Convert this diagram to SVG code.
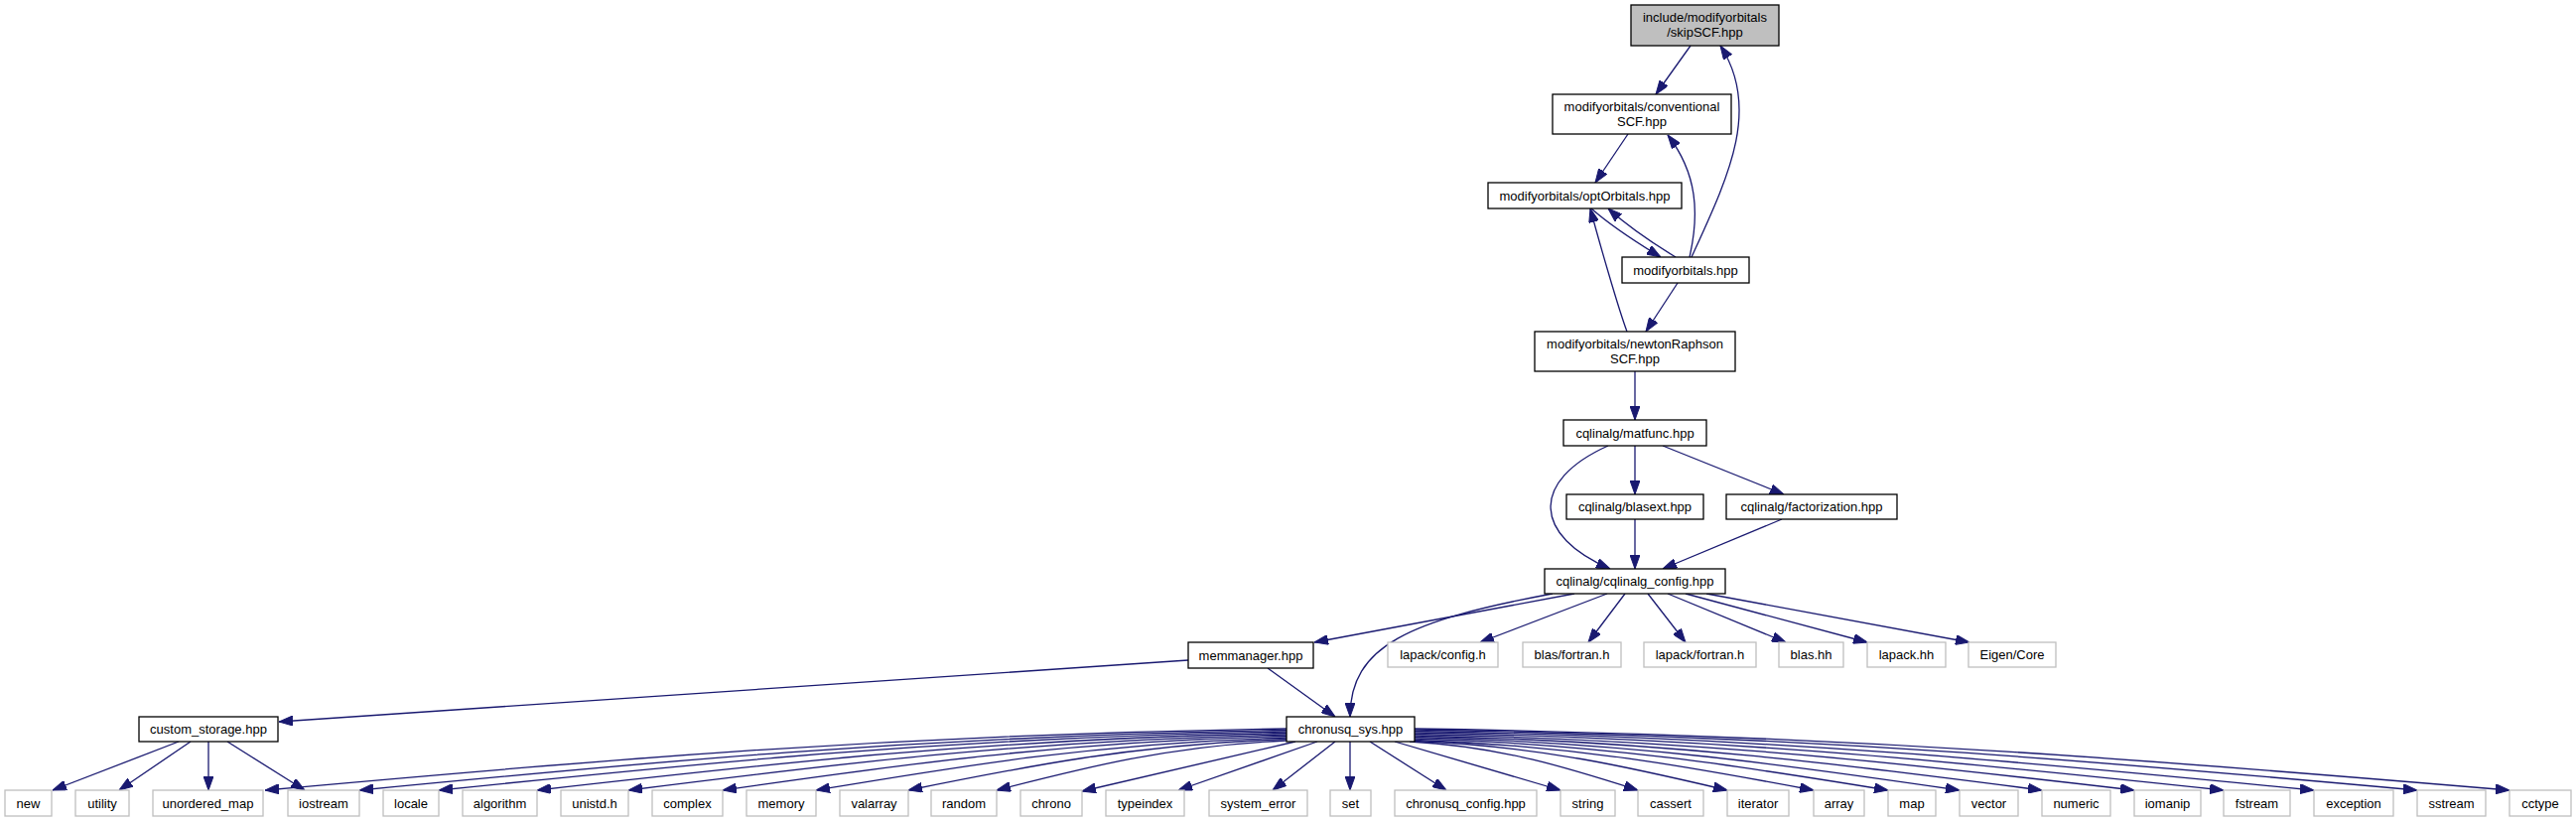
<svg xmlns="http://www.w3.org/2000/svg" width="2595" height="828" viewBox="0 0 2595 828">
<defs>
<style>
.n rect{fill:#ffffff;stroke:#000000;stroke-width:1.3}
.n.root rect{fill:#bfbfbf}
.x rect{fill:#ffffff;stroke:#bfbfbf;stroke-width:1.3}
text{font-family:"Liberation Sans",Arial,sans-serif;font-size:13px;fill:#000000;text-anchor:middle}
.e path{fill:none;stroke:#191970;stroke-width:1.3;marker-end:url(#arr)}
</style>
<marker id="arr" viewBox="0 0 14 10" refX="14" refY="5" markerWidth="14" markerHeight="10" markerUnits="userSpaceOnUse" orient="auto">
<path d="M0,0 L14,5 L0,10 z" fill="#191970" stroke="#191970" stroke-width="1"/>
</marker>
</defs>
<rect x="0" y="0" width="2595" height="828" fill="#ffffff"/>

<g id="edges" class="e">
<path d="M1703,46 L1668,95"/>
<path d="M1704,259 C1740,180 1775,110 1733,46"/>
<path d="M1640,135 L1607,184"/>
<path d="M1702,259 C1712,215 1710,175 1680,136"/>
<path d="M1603,210 C1620,225 1645,242 1673,259"/>
<path d="M1688,259 C1665,245 1640,228 1620,210"/>
<path d="M1639,334 C1630,310 1610,240 1602,210"/>
<path d="M1690,285 L1658,334"/>
<path d="M1647,374 L1647,423"/>
<path d="M1647,449 L1647,498"/>
<path d="M1675,449 L1797,498"/>
<path d="M1620,449 C1540,485 1545,540 1622,573"/>
<path d="M1647,523 L1647,573"/>
<path d="M1795,523 L1675,573"/>
<path d="M1586,598 L1324,647"/>
<path d="M1564,598 C1420,625 1360,650 1360,722"/>
<path d="M1619,598 L1491,647"/>
<path d="M1637,598 L1600,647"/>
<path d="M1660,598 L1698,647"/>
<path d="M1680,598 L1799,647"/>
<path d="M1698,598 L1881,647"/>
<path d="M1719,598 L1984,647"/>
<path d="M1197,665 L281,727"/>
<path d="M1277,673 L1345,722"/>
<path d="M180,747 L53,796"/>
<path d="M192,747 L120,796"/>
<path d="M210,747 L210,796"/>
<path d="M229,747 L307,796"/>
<path d="M1296,734 C884.4,740.2 575.7,768.1 267,796"/>
<path d="M1296,735.5 C922.4,741.6 642.2,768.8 362,796"/>
<path d="M1296,737 C954.4,742.9 698.2,769.5 442,796"/>
<path d="M1296,738.5 C994,744.3 767.5,770.1 541,796"/>
<path d="M1296,740 C1030.8,745.6 831.9,770.8 633,796"/>
<path d="M1296,741.5 C1068.8,747 898.4,771.5 728,796"/>
<path d="M1296,743 C1106.4,748.3 964.2,772.2 822,796"/>
<path d="M1296,744.5 C1143.6,749.7 1029.3,772.8 915,796"/>
<path d="M1296,746 C1179.2,751 1091.6,773.5 1004,796"/>
<path d="M1305,747 L1090,797"/>
<path d="M1327,747 L1187,796"/>
<path d="M1345,747 L1282,796"/>
<path d="M1360,747 L1360,796"/>
<path d="M1380,747 L1457,796"/>
<path d="M1405,747 L1572,796"/>
<path d="M1420,747 C1512,751.9 1581,774 1650,796"/>
<path d="M1425,746.5 C1551,751.5 1645.5,773.7 1740,796"/>
<path d="M1425,745.5 C1585.8,750.6 1706.4,773.3 1827,796"/>
<path d="M1425,744 C1615.8,749.2 1758.9,772.6 1902,796"/>
<path d="M1425,742.5 C1644.6,747.9 1809.3,771.9 1974,796"/>
<path d="M1425,741 C1677.8,746.5 1867.4,771.3 2057,796"/>
<path d="M1425,739.5 C1715,745.2 1932.5,770.6 2150,796"/>
<path d="M1425,738 C1751,743.8 1995.5,769.9 2240,796"/>
<path d="M1425,736.5 C1787.4,742.5 2059.2,769.2 2331,796"/>
<path d="M1425,735 C1829,741.1 2132,768.6 2435,796"/>
<path d="M1425,734 C1866.2,740.2 2197.1,768.1 2528,796"/>
</g>

<g id="node-skipSCF" class="n root"><rect x="1643" y="5" width="149" height="41"/><text x="1717.5" y="22">include/modifyorbitals</text><text x="1717.5" y="37">/skipSCF.hpp</text></g>
<g id="node-conventionalSCF" class="n"><rect x="1564" y="95" width="180" height="40"/><text x="1654" y="112">modifyorbitals/conventional</text><text x="1654" y="127">SCF.hpp</text></g>
<g id="node-optOrbitals" class="n"><rect x="1499" y="184" width="195" height="26"/><text x="1596.5" y="201.5">modifyorbitals/optOrbitals.hpp</text></g>
<g id="node-modifyorbitals" class="n"><rect x="1634" y="259" width="128" height="26"/><text x="1698" y="276.5">modifyorbitals.hpp</text></g>
<g id="node-newtonRaphsonSCF" class="n"><rect x="1546" y="334" width="202" height="40"/><text x="1647" y="351">modifyorbitals/newtonRaphson</text><text x="1647" y="366">SCF.hpp</text></g>
<g id="node-matfunc" class="n"><rect x="1575" y="423" width="144" height="26"/><text x="1647" y="440.5">cqlinalg/matfunc.hpp</text></g>
<g id="node-blasext" class="n"><rect x="1578" y="498" width="138" height="25"/><text x="1647" y="515">cqlinalg/blasext.hpp</text></g>
<g id="node-factorization" class="n"><rect x="1739" y="498" width="172" height="25"/><text x="1825" y="515">cqlinalg/factorization.hpp</text></g>
<g id="node-cqlinalg_config" class="n"><rect x="1556" y="573" width="182" height="25"/><text x="1647" y="590">cqlinalg/cqlinalg_config.hpp</text></g>
<g id="node-memmanager" class="n"><rect x="1197" y="647" width="126" height="26"/><text x="1260" y="664.5">memmanager.hpp</text></g>
<g id="node-custom_storage" class="n"><rect x="140" y="722" width="140" height="25"/><text x="210" y="739">custom_storage.hpp</text></g>
<g id="node-chronusq_sys" class="n"><rect x="1296" y="722" width="129" height="25"/><text x="1360.5" y="739">chronusq_sys.hpp</text></g>

<g id="node-lapack-config" class="x"><rect x="1398" y="647" width="111" height="25"/><text x="1453.5" y="664">lapack/config.h</text></g>
<g id="node-blas-fortran" class="x"><rect x="1534" y="647" width="99" height="25"/><text x="1583.5" y="664">blas/fortran.h</text></g>
<g id="node-lapack-fortran" class="x"><rect x="1656" y="647" width="113" height="25"/><text x="1712.5" y="664">lapack/fortran.h</text></g>
<g id="node-blas-hh" class="x"><rect x="1792" y="647" width="65" height="25"/><text x="1824.5" y="664">blas.hh</text></g>
<g id="node-lapack-hh" class="x"><rect x="1881" y="647" width="79" height="25"/><text x="1920.5" y="664">lapack.hh</text></g>
<g id="node-eigen-core" class="x"><rect x="1983" y="647" width="88" height="25"/><text x="2027" y="664">Eigen/Core</text></g>

<g id="node-new" class="x"><rect x="5" y="796" width="47" height="26"/><text x="28.5" y="813.5">new</text></g>
<g id="node-utility" class="x"><rect x="76" y="796" width="54" height="26"/><text x="103" y="813.5">utility</text></g>
<g id="node-unordered_map" class="x"><rect x="154" y="796" width="111" height="26"/><text x="209.5" y="813.5">unordered_map</text></g>
<g id="node-iostream" class="x"><rect x="290" y="796" width="72" height="26"/><text x="326" y="813.5">iostream</text></g>
<g id="node-locale" class="x"><rect x="386" y="796" width="56" height="26"/><text x="414" y="813.5">locale</text></g>
<g id="node-algorithm" class="x"><rect x="466" y="796" width="75" height="26"/><text x="503.5" y="813.5">algorithm</text></g>
<g id="node-unistd" class="x"><rect x="565" y="796" width="68" height="26"/><text x="599" y="813.5">unistd.h</text></g>
<g id="node-complex" class="x"><rect x="657" y="796" width="71" height="26"/><text x="692.5" y="813.5">complex</text></g>
<g id="node-memory" class="x"><rect x="752" y="796" width="70" height="26"/><text x="787" y="813.5">memory</text></g>
<g id="node-valarray" class="x"><rect x="846" y="796" width="69" height="26"/><text x="880.5" y="813.5">valarray</text></g>
<g id="node-random" class="x"><rect x="938" y="796" width="66" height="26"/><text x="971" y="813.5">random</text></g>
<g id="node-chrono" class="x"><rect x="1028" y="796" width="62" height="26"/><text x="1059" y="813.5">chrono</text></g>
<g id="node-typeindex" class="x"><rect x="1114" y="796" width="79" height="26"/><text x="1153.5" y="813.5">typeindex</text></g>
<g id="node-system_error" class="x"><rect x="1218" y="796" width="99" height="26"/><text x="1267.5" y="813.5">system_error</text></g>
<g id="node-set" class="x"><rect x="1340" y="796" width="41" height="26"/><text x="1360.5" y="813.5">set</text></g>
<g id="node-chronusq_config" class="x"><rect x="1405" y="796" width="143" height="26"/><text x="1476.5" y="813.5">chronusq_config.hpp</text></g>
<g id="node-string" class="x"><rect x="1572" y="796" width="55" height="26"/><text x="1599.5" y="813.5">string</text></g>
<g id="node-cassert" class="x"><rect x="1650" y="796" width="66" height="26"/><text x="1683" y="813.5">cassert</text></g>
<g id="node-iterator" class="x"><rect x="1740" y="796" width="62" height="26"/><text x="1771" y="813.5">iterator</text></g>
<g id="node-array" class="x"><rect x="1827" y="796" width="51" height="26"/><text x="1852.5" y="813.5">array</text></g>
<g id="node-map" class="x"><rect x="1902" y="796" width="48" height="26"/><text x="1926" y="813.5">map</text></g>
<g id="node-vector" class="x"><rect x="1974" y="796" width="59" height="26"/><text x="2003.5" y="813.5">vector</text></g>
<g id="node-numeric" class="x"><rect x="2057" y="796" width="69" height="26"/><text x="2091.5" y="813.5">numeric</text></g>
<g id="node-iomanip" class="x"><rect x="2150" y="796" width="67" height="26"/><text x="2183.5" y="813.5">iomanip</text></g>
<g id="node-fstream" class="x"><rect x="2240" y="796" width="67" height="26"/><text x="2273.5" y="813.5">fstream</text></g>
<g id="node-exception" class="x"><rect x="2331" y="796" width="80" height="26"/><text x="2371" y="813.5">exception</text></g>
<g id="node-sstream" class="x"><rect x="2435" y="796" width="69" height="26"/><text x="2469.5" y="813.5">sstream</text></g>
<g id="node-cctype" class="x"><rect x="2528" y="796" width="62" height="26"/><text x="2559" y="813.5">cctype</text></g>
</svg>
